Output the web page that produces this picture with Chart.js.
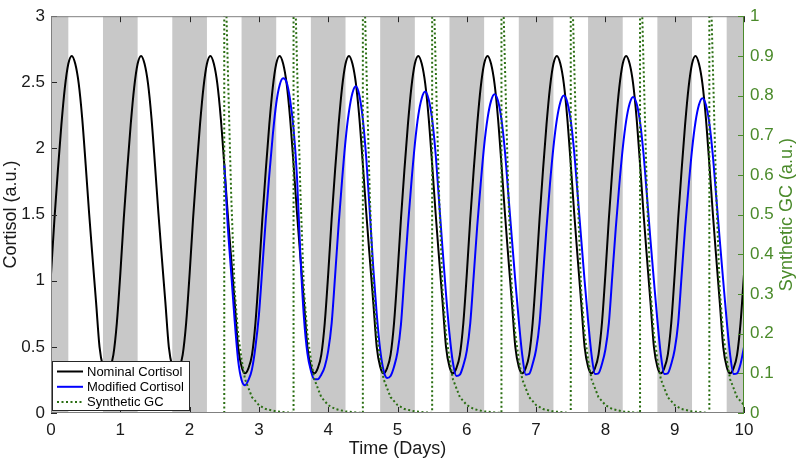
<!DOCTYPE html>
<html>
<head>
<meta charset="utf-8">
<script src="https://cdn.jsdelivr.net/npm/chart.js@4.4.1/dist/chart.umd.min.js"></script>
<style>
  html, body { margin: 0; padding: 0; background: #fff; }
  #wrap { width: 800px; height: 463px; }
</style>
</head>
<body>
<div id="wrap"><canvas id="cortisolChart" width="800" height="463"></canvas></div>
<script>
// Datos
const sampleStep = 0.05; // días entre muestras de las curvas de cortisol
const modifiedStart = 2.5;

// Cortisol nominal (0 a 10 días, cada 0.05)
const nominalCortisol = [
  1.05, 1.47, 1.84, 2.18, 2.46, 2.64, 2.70, 2.64, 2.49, 2.23, 1.88, 1.51, 1.17, 0.84, 0.50, 0.35, 0.30, 0.34, 0.44, 0.68,
  1.05, 1.47, 1.84, 2.18, 2.46, 2.64, 2.70, 2.64, 2.49, 2.23, 1.88, 1.51, 1.17, 0.84, 0.50, 0.35, 0.30, 0.34, 0.44, 0.68,
  1.05, 1.47, 1.84, 2.18, 2.46, 2.64, 2.70, 2.64, 2.49, 2.23, 1.88, 1.51, 1.17, 0.84, 0.50, 0.35, 0.30, 0.34, 0.44, 0.68,
  1.05, 1.47, 1.84, 2.18, 2.46, 2.64, 2.70, 2.64, 2.49, 2.23, 1.88, 1.51, 1.17, 0.84, 0.50, 0.35, 0.30, 0.34, 0.44, 0.68,
  1.05, 1.47, 1.84, 2.18, 2.46, 2.64, 2.70, 2.64, 2.49, 2.23, 1.88, 1.51, 1.17, 0.84, 0.50, 0.35, 0.30, 0.34, 0.44, 0.68,
  1.05, 1.47, 1.84, 2.18, 2.46, 2.64, 2.70, 2.64, 2.49, 2.23, 1.88, 1.51, 1.17, 0.84, 0.50, 0.35, 0.30, 0.34, 0.44, 0.68,
  1.05, 1.47, 1.84, 2.18, 2.46, 2.64, 2.70, 2.64, 2.49, 2.23, 1.88, 1.51, 1.17, 0.84, 0.50, 0.35, 0.30, 0.34, 0.44, 0.68,
  1.05, 1.47, 1.84, 2.18, 2.46, 2.64, 2.70, 2.64, 2.49, 2.23, 1.88, 1.51, 1.17, 0.84, 0.50, 0.35, 0.30, 0.34, 0.44, 0.68,
  1.05, 1.47, 1.84, 2.18, 2.46, 2.64, 2.70, 2.64, 2.49, 2.23, 1.88, 1.51, 1.17, 0.84, 0.50, 0.35, 0.30, 0.34, 0.44, 0.68,
  1.05, 1.47, 1.84, 2.18, 2.46, 2.64, 2.70, 2.64, 2.49, 2.23, 1.88, 1.51, 1.17, 0.84, 0.50, 0.35, 0.30, 0.34, 0.44, 0.68,
  1.05
];

// Cortisol modificado (desde 2.5 días, cada 0.05)
const modifiedCortisol = [
  1.88, 1.42, 1.06, 0.70, 0.40, 0.25, 0.21, 0.25, 0.33, 0.50,
  0.74, 1.10, 1.47, 1.80, 2.10, 2.34, 2.48, 2.53, 2.50, 2.37, 2.15, 1.78, 1.18, 0.72, 0.45, 0.32, 0.255, 0.255, 0.29, 0.35,
  0.47, 0.68, 1.04, 1.42, 1.76, 2.06, 2.28, 2.42, 2.47, 2.40, 2.22, 1.92, 1.52, 1.10, 0.75, 0.48, 0.32, 0.265, 0.28, 0.35,
  0.46, 0.67, 1.04, 1.41, 1.74, 2.03, 2.25, 2.38, 2.43, 2.37, 2.22, 1.96, 1.60, 1.24, 0.90, 0.60, 0.38, 0.28, 0.29, 0.36,
  0.47, 0.68, 1.04, 1.41, 1.73, 2.02, 2.23, 2.36, 2.41, 2.36, 2.22, 1.98, 1.65, 1.32, 1.00, 0.70, 0.44, 0.29, 0.295, 0.37,
  0.48, 0.68, 1.04, 1.40, 1.73, 2.01, 2.22, 2.35, 2.40, 2.35, 2.21, 1.97, 1.65, 1.32, 1.00, 0.70, 0.44, 0.295, 0.30, 0.37,
  0.48, 0.68, 1.04, 1.40, 1.72, 2.00, 2.21, 2.34, 2.39, 2.34, 2.20, 1.96, 1.64, 1.31, 1.00, 0.70, 0.44, 0.295, 0.30, 0.37,
  0.48, 0.68, 1.04, 1.40, 1.71, 1.99, 2.20, 2.33, 2.38, 2.33, 2.19, 1.95, 1.63, 1.31, 1.00, 0.70, 0.44, 0.295, 0.30, 0.37,
  0.50
];

// GC sintético: tiempos y niveles de cada dosis
const gcDays = [
  2.5, 2.5, 2.525, 2.55, 2.58, 2.6, 2.65, 2.7, 2.75, 2.8, 2.9, 3.0, 3.1, 3.25,
  3.5, 3.5, 3.525, 3.55, 3.58, 3.6, 3.65, 3.7, 3.75, 3.8, 3.9, 4.0, 4.1, 4.25,
  4.5, 4.5, 4.525, 4.55, 4.58, 4.6, 4.65, 4.7, 4.75, 4.8, 4.9, 5.0, 5.1, 5.25,
  5.5, 5.5, 5.525, 5.55, 5.58, 5.6, 5.65, 5.7, 5.75, 5.8, 5.9, 6.0, 6.1, 6.25,
  6.5, 6.5, 6.525, 6.55, 6.58, 6.6, 6.65, 6.7, 6.75, 6.8, 6.9, 7.0, 7.1, 7.25,
  7.5, 7.5, 7.525, 7.55, 7.58, 7.6, 7.65, 7.7, 7.75, 7.8, 7.9, 8.0, 8.1, 8.25,
  8.5, 8.5, 8.525, 8.55, 8.58, 8.6, 8.65, 8.7, 8.75, 8.8, 8.9, 9.0, 9.1, 9.25,
  9.5, 9.5, 9.525, 9.55, 9.58, 9.6, 9.65, 9.7, 9.75, 9.8, 9.9, 10.0
];
const gcLevel = [
  0, 1.6, 1.05, 0.88, 0.68, 0.55, 0.31, 0.20, 0.135, 0.085, 0.04, 0.02, 0.01, 0.004,
  0, 1.6, 1.05, 0.88, 0.68, 0.55, 0.31, 0.20, 0.135, 0.085, 0.04, 0.02, 0.01, 0.004,
  0, 1.6, 1.05, 0.88, 0.68, 0.55, 0.31, 0.20, 0.135, 0.085, 0.04, 0.02, 0.01, 0.004,
  0, 1.6, 1.05, 0.88, 0.68, 0.55, 0.31, 0.20, 0.135, 0.085, 0.04, 0.02, 0.01, 0.004,
  0, 1.6, 1.05, 0.88, 0.68, 0.55, 0.31, 0.20, 0.135, 0.085, 0.04, 0.02, 0.01, 0.004,
  0, 1.6, 1.05, 0.88, 0.68, 0.55, 0.31, 0.20, 0.135, 0.085, 0.04, 0.02, 0.01, 0.004,
  0, 1.6, 1.05, 0.88, 0.68, 0.55, 0.31, 0.20, 0.135, 0.085, 0.04, 0.02, 0.01, 0.004,
  0, 1.6, 1.05, 0.88, 0.68, 0.55, 0.31, 0.20, 0.135, 0.085, 0.04, 0.02
];

// Franjas grises (noche)
const nightStart = [-0.25, 0.75, 1.75, 2.75, 3.75, 4.75, 5.75, 6.75, 7.75, 8.75, 9.75];
const nightEnd   = [0.25, 1.25, 2.25, 3.25, 4.25, 5.25, 6.25, 7.25, 8.25, 9.25, 10.25];

const seriesNames = ["Nominal Cortisol", "Modified Cortisol", "Synthetic GC"];
const axisTitles = ["Time (Days)", "Cortisol (a.u.)", "Synthetic GC (a.u.)"];

const FONT = "'Liberation Sans', Arial, Helvetica, sans-serif";
const AXIS_GRAY = "#262626";
const GC_GREEN = "#2a6e12";
const RIGHT_GREEN = "#4a8a2a";

const nominalPoints = nominalCortisol.map((v, i) => ({ x: i * sampleStep, y: v }));
const modifiedPoints = modifiedCortisol.map((v, i) => ({ x: modifiedStart + i * sampleStep, y: v }));
const gcPoints = gcLevel.map((v, i) => ({ x: gcDays[i], y: v }));

// etiquetas estilo MATLAB: 3 en vez de 3.0
const plainTick = value => String(Math.round(value * 10) / 10);

// Plugin: franjas grises detrás de las curvas
const nightBands = {
  id: "nightBands",
  beforeDatasetsDraw(chart) {
    const { ctx, chartArea, scales } = chart;
    ctx.save();
    ctx.beginPath();
    ctx.rect(chartArea.left, chartArea.top, chartArea.right - chartArea.left, chartArea.bottom - chartArea.top);
    ctx.clip();
    ctx.fillStyle = "#c8c8c8";
    nightStart.forEach((s, i) => {
      const x0 = scales.x.getPixelForValue(s);
      const x1 = scales.x.getPixelForValue(nightEnd[i]);
      ctx.fillRect(x0, chartArea.top, x1 - x0, chartArea.bottom - chartArea.top);
    });
    ctx.restore();
  }
};

// Plugin: marco, ticks hacia dentro, título derecho y leyenda
const matlabFrame = {
  id: "matlabFrame",
  afterDraw(chart) {
    const { ctx, chartArea, scales } = chart;
    const { left, right, top, bottom } = chartArea;
    ctx.save();
    ctx.lineWidth = 1;

    // ticks del eje x (abajo y arriba)
    ctx.strokeStyle = AXIS_GRAY;
    scales.x.ticks.forEach(t => {
      const px = Math.round(scales.x.getPixelForValue(t.value)) + 0.5;
      ctx.beginPath();
      ctx.moveTo(px, bottom); ctx.lineTo(px, bottom - 6);
      ctx.moveTo(px, top); ctx.lineTo(px, top + 6);
      ctx.stroke();
    });
    // ticks eje izquierdo
    scales.y.ticks.forEach(t => {
      const py = Math.round(scales.y.getPixelForValue(t.value)) + 0.5;
      ctx.beginPath();
      ctx.moveTo(left, py); ctx.lineTo(left + 6, py);
      ctx.stroke();
    });
    // marco
    ctx.strokeStyle = "#808080";
    ctx.beginPath();
    ctx.moveTo(left + 0.5, top + 0.5); ctx.lineTo(right, top + 0.5);
    ctx.moveTo(left + 0.5, top); ctx.lineTo(left + 0.5, bottom);
    ctx.moveTo(left, bottom - 0.5); ctx.lineTo(right, bottom - 0.5);
    ctx.stroke();

    // eje derecho en verde
    ctx.strokeStyle = RIGHT_GREEN;
    ctx.beginPath();
    ctx.moveTo(right - 0.5, top); ctx.lineTo(right - 0.5, bottom);
    ctx.stroke();
    scales.y2.ticks.forEach(t => {
      const py = Math.round(scales.y2.getPixelForValue(t.value)) + 0.5;
      ctx.beginPath();
      ctx.moveTo(right, py); ctx.lineTo(right - 6, py);
      ctx.stroke();
    });

    // título del eje derecho (de abajo hacia arriba)
    ctx.fillStyle = RIGHT_GREEN;
    ctx.font = "18px " + FONT;
    ctx.textAlign = "center";
    ctx.textBaseline = "middle";
    ctx.translate(787, (top + bottom) / 2);
    ctx.rotate(-Math.PI / 2);
    ctx.fillText(axisTitles[2], 0, 0);
    ctx.setTransform(1, 0, 0, 1, 0, 0);

    // leyenda
    const lx = left + 1, ly = bottom - 52, lw = 138, lh = 50;
    ctx.fillStyle = "#ffffff";
    ctx.fillRect(lx, ly, lw, lh);
    ctx.strokeStyle = AXIS_GRAY;
    ctx.strokeRect(lx + 0.5, ly + 0.5, lw - 1, lh - 1);
    ctx.font = "13px " + FONT;
    ctx.textAlign = "left";
    chart.data.datasets.forEach((ds, i) => {
      const ry = ly + 10.5 + i * 15.3;
      ctx.save();
      ctx.strokeStyle = ds.borderColor;
      ctx.lineWidth = 2;
      ctx.setLineDash(ds.borderDash || []);
      ctx.beginPath();
      ctx.moveTo(lx + 5, ry); ctx.lineTo(lx + 31, ry);
      ctx.stroke();
      ctx.restore();
      ctx.fillStyle = "#000000";
      ctx.fillText(ds.label, lx + 35, ry + 0.5);
    });
    ctx.restore();
  }
};

new Chart(document.getElementById("cortisolChart"), {
  type: "line",
  data: {
    datasets: [
      {
        label: seriesNames[0],
        data: nominalPoints,
        borderColor: "#000000",
        borderWidth: 2,
        pointRadius: 0,
        cubicInterpolationMode: "monotone",
        yAxisID: "y",
        order: 3
      },
      {
        label: seriesNames[1],
        data: modifiedPoints,
        borderColor: "#0000ff",
        borderWidth: 2,
        pointRadius: 0,
        cubicInterpolationMode: "monotone",
        yAxisID: "y",
        order: 2
      },
      {
        label: seriesNames[2],
        data: gcPoints,
        borderColor: GC_GREEN,
        borderWidth: 2,
        borderDash: [2, 2.5],
        pointRadius: 0,
        tension: 0,
        yAxisID: "y2",
        order: 1
      }
    ]
  },
  options: {
    responsive: false,
    animation: false,
    devicePixelRatio: 1,
    layout: { padding: { top: 10, left: 0, right: 0, bottom: 0 } },
    plugins: {
      legend: { display: false },
      tooltip: { enabled: false }
    },
    scales: {
      x: {
        type: "linear",
        min: 0,
        max: 10,
        grid: { display: false, drawTicks: false },
        border: { display: false },
        ticks: { stepSize: 1, color: "#1a1a1a", padding: 7, callback: plainTick, font: { family: FONT, size: 17 } },
        title: { display: true, text: axisTitles[0], color: "#1a1a1a", padding: { top: 0, bottom: 3 }, font: { family: FONT, size: 18 } },
        afterFit(scale) { scale.height = 50; }
      },
      y: {
        position: "left",
        min: 0,
        max: 3,
        grid: { display: false, drawTicks: false },
        border: { display: false },
        ticks: { stepSize: 0.5, color: "#1a1a1a", padding: 6, callback: plainTick, font: { family: FONT, size: 17 } },
        title: { display: true, text: axisTitles[1], color: "#1a1a1a", padding: { top: 0, bottom: 0 }, font: { family: FONT, size: 18 } },
        afterFit(scale) { scale.width = 51; }
      },
      y2: {
        position: "right",
        min: 0,
        max: 1,
        grid: { display: false, drawTicks: false },
        border: { display: false },
        ticks: { stepSize: 0.1, color: RIGHT_GREEN, padding: 6, callback: plainTick, font: { family: FONT, size: 17 } },
        afterFit(scale) { scale.width = 56; }
      }
    }
  },
  plugins: [nightBands, matlabFrame]
});
</script>
</body>
</html>
